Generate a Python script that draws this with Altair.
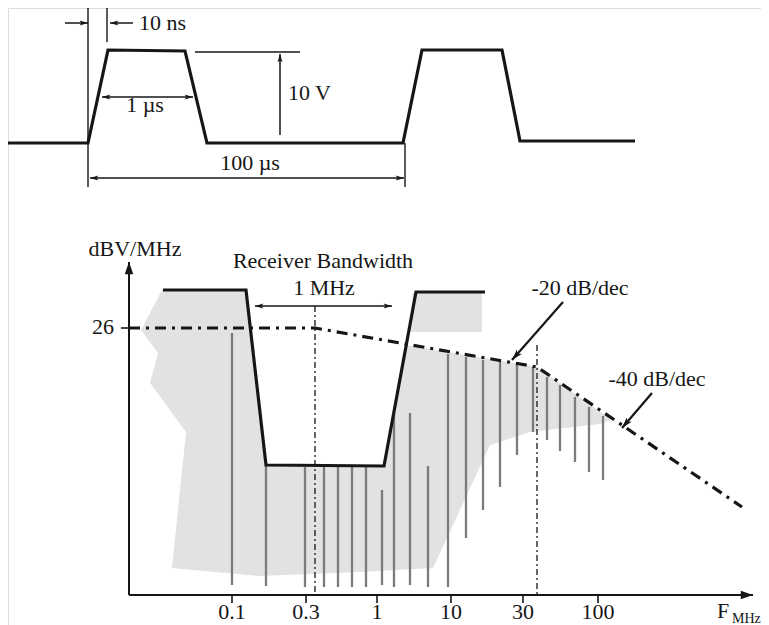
import altair as alt
import numpy as np
import pandas as pd

# ---------------- data: diagram coordinates ----------------
# pulse train (top)
pulse_x = [5, 88, 108, 185, 207, 318, 403, 422, 502, 520, 635]
pulse_y = [143, 143, 50, 51, 143, 143, 143, 50, 50, 141, 141]

# thin guide lines (top)
guide_x1 = [88, 107, 195, 405]
guide_y1 = [5, 8, 52, 143]
guide_x2 = [88, 107, 300, 405]
guide_y2 = [187, 42, 52, 187]

# small dimension arrows (top + bandwidth arrow)
small_x1 = [65, 133, 102, 280, 90, 255]
small_y1 = [23, 23, 97, 135, 178, 306]
small_x2 = [88, 110, 193, 280, 404, 392]
small_y2 = [23, 23, 97, 54, 178, 306]
small_heads = ["end", "end", "both", "end", "both", "both"]

# slope annotation arrows
slope_x1 = [563, 652]
slope_y1 = [302, 393]
slope_x2 = [512, 622]
slope_y2 = [360, 428]

# axes of the spectrum plot
axis_x1 = [129, 129]
axis_y1 = [595, 595]
axis_x2 = [129, 753]
axis_y2 = [262, 595]

# tick marks
xtick_pos = [232, 306, 377, 451, 523, 598]
xtick_lab = ["0.1", "0.3", "1", "10", "30", "100"]
ytick_pos = [328]
ytick_lab = ["26"]

# shaded region (two polygons)
gray_main_x = [162, 246, 266, 384, 406, 537, 612, 600, 530, 490, 433, 360, 260, 172, 186, 150, 158, 141, 162]
gray_main_y = [290, 290, 465, 466, 345, 367, 420, 424, 432, 445, 568, 572, 576, 568, 432, 383, 353, 330, 290]
gray_block_x = [413, 482, 482, 409, 413]
gray_block_y = [292, 292, 332, 332, 292]

# spectral lines
spec_x = [232, 266, 305, 324, 338, 352, 366, 382, 394, 410, 428, 448,
          466, 483, 500, 517, 533, 547, 560, 575, 589, 603]
spec_top = [333, 465, 467, 467, 467, 467, 467, 490, 410, 413, 466, 354,
            357, 360, 362, 364, 367, 377, 385, 397, 407, 416]
spec_bot = [585, 586, 587, 587, 587, 587, 587, 585, 587, 585, 587, 587,
            538, 510, 487, 455, 432, 440, 451, 462, 472, 480]

# receiver bandwidth curve
recv_x = [163, 246, 266, 384, 416, 485]
recv_y = [290, 290, 465, 466, 292, 292]

# spectrum envelope (dash-dot)
env_x = [129, 315, 537, 742]
env_y = [328, 328, 367, 507]

# corner-frequency markers
corner_x = [315, 537]
corner_top = [306, 345]
corner_bot = [595, 595]

# texts
txt_c_lab = ["1 µs", "100 µs", "dBV/MHz", "Receiver Bandwidth", "1 MHz", "-20 dB/dec", "-40 dB/dec"]
txt_c_x = [145, 250, 135, 323, 324, 580, 657]
txt_c_y = [112, 170, 256, 268, 295, 295, 386]
txt_l_lab = ["10 ns", "10 V", "F"]
txt_l_x = [139, 288, 717]
txt_l_y = [30, 100, 618]
sub_lab = ["MHz"]
sub_x = [732]
sub_y = [623]

# ---------------- build tables ----------------
def segs(x1, y1, x2, y2):
    return pd.DataFrame({"x": x1, "y": y1, "x2": x2, "y2": y2})


def heads(x1, y1, x2, y2, kinds=None):
    rows = []
    kinds = kinds or ["end"] * len(x1)
    for a, b, c, d, k in zip(x1, y1, x2, y2, kinds):
        ang = float(np.degrees(np.arctan2(c - a, -(d - b))) % 360)
        rows.append({"x": c, "y": d, "angle": ang})
        if k == "both":
            rows.append({"x": a, "y": b, "angle": (ang + 180) % 360})
    return pd.DataFrame(rows)


def path(xs, ys, key="p"):
    return pd.DataFrame({"x": xs, "y": ys, "i": range(len(xs)), "k": key})


xs = alt.Scale(domain=[8, 761], nice=False, zero=False)
ys = alt.Scale(domain=[625, 8], nice=False, zero=False)
X = alt.X("x:Q", scale=xs, axis=None)
Y = alt.Y("y:Q", scale=ys, axis=None)
X2 = alt.X2("x2:Q")
Y2 = alt.Y2("y2:Q")

INK = "#161616"
FONT = "Liberation Serif"
FS = 22

gray_df = pd.concat([path(gray_main_x, gray_main_y, "a"), path(gray_block_x, gray_block_y, "b")])
gray = alt.Chart(gray_df).mark_line(fill="#e2e2e2", strokeWidth=0, stroke="#e2e2e2").encode(
    x=X, y=Y, order="i:Q", detail="k:N")

spec = alt.Chart(segs(spec_x, spec_top, spec_x, spec_bot)).mark_rule(
    color="#7b7b7b", strokeWidth=2.3).encode(x=X, y=Y, x2=X2, y2=Y2)

corners = alt.Chart(segs(corner_x, corner_top, corner_x, corner_bot)).mark_rule(
    color=INK, strokeWidth=1.3, strokeDash=[6, 3, 2, 3]).encode(x=X, y=Y, x2=X2, y2=Y2)

env = alt.Chart(path(env_x, env_y)).mark_line(
    color=INK, strokeWidth=3.2, strokeDash=[11, 6, 3, 6]).encode(x=X, y=Y, order="i:Q")

recv = alt.Chart(path(recv_x, recv_y)).mark_line(
    color=INK, strokeWidth=3.2, strokeJoin="miter").encode(x=X, y=Y, order="i:Q")

pulse = alt.Chart(path(pulse_x, pulse_y)).mark_line(
    color=INK, strokeWidth=3.2, strokeJoin="miter").encode(x=X, y=Y, order="i:Q")

guides = alt.Chart(segs(guide_x1, guide_y1, guide_x2, guide_y2)).mark_rule(
    color=INK, strokeWidth=1.4).encode(x=X, y=Y, x2=X2, y2=Y2)

shafts = alt.Chart(segs(small_x1, small_y1, small_x2, small_y2)).mark_rule(
    color=INK, strokeWidth=1.5).encode(x=X, y=Y, x2=X2, y2=Y2)

slope_shafts = alt.Chart(segs(slope_x1, slope_y1, slope_x2, slope_y2)).mark_rule(
    color=INK, strokeWidth=2.2).encode(x=X, y=Y, x2=X2, y2=Y2)

axes = alt.Chart(segs(axis_x1, axis_y1, axis_x2, axis_y2)).mark_rule(
    color=INK, strokeWidth=2).encode(x=X, y=Y, x2=X2, y2=Y2)

xt = pd.DataFrame({"x": xtick_pos, "y": [595] * len(xtick_pos), "x2": xtick_pos,
                   "y2": [603] * len(xtick_pos), "lab": xtick_lab})
yt = pd.DataFrame({"x": [121], "y": ytick_pos, "x2": [129], "y2": ytick_pos, "lab": ytick_lab})
ticks = alt.Chart(pd.concat([xt, yt])).mark_rule(color=INK, strokeWidth=1.6).encode(
    x=X, y=Y, x2=X2, y2=Y2)

BARB = "M0,0 L0.6,2 L0,1.55 L-0.6,2 Z"
TRI = "M0,0 L0.7,2 L-0.7,2 Z"
ANG = alt.Angle("angle:Q", scale=None)

small_heads_c = alt.Chart(heads(small_x1, small_y1, small_x2, small_y2, small_heads)).mark_point(
    shape=BARB, filled=True, color=INK, opacity=1, size=70, strokeWidth=0).encode(x=X, y=Y, angle=ANG)
slope_heads_c = alt.Chart(heads(slope_x1, slope_y1, slope_x2, slope_y2)).mark_point(
    shape=BARB, filled=True, color=INK, opacity=1, size=120, strokeWidth=0).encode(x=X, y=Y, angle=ANG)
axis_heads_c = alt.Chart(heads(axis_x1, axis_y1, axis_x2, axis_y2)).mark_point(
    shape=TRI, filled=True, color=INK, opacity=1, size=150, strokeWidth=0).encode(x=X, y=Y, angle=ANG)

xl = pd.DataFrame({"x": xtick_pos, "y": [619] * len(xtick_pos), "lab": xtick_lab})
yl = pd.DataFrame({"x": [114], "y": [334], "lab": ytick_lab})

tx_c = pd.concat([pd.DataFrame({"x": txt_c_x, "y": txt_c_y, "lab": txt_c_lab}), xl])
text_c = alt.Chart(tx_c).mark_text(font=FONT, fontSize=FS, color=INK, align="center",
                                    baseline="alphabetic").encode(x=X, y=Y, text="lab:N")
text_l = alt.Chart(pd.DataFrame({"x": txt_l_x, "y": txt_l_y, "lab": txt_l_lab})).mark_text(
    font=FONT, fontSize=FS, color=INK, align="left", baseline="alphabetic").encode(x=X, y=Y, text="lab:N")
text_r = alt.Chart(yl).mark_text(font=FONT, fontSize=FS, color=INK, align="right",
                                 baseline="alphabetic").encode(x=X, y=Y, text="lab:N")
text_sub = alt.Chart(pd.DataFrame({"x": sub_x, "y": sub_y, "lab": sub_lab})).mark_text(
    font=FONT, fontSize=14, color=INK, align="left", baseline="alphabetic").encode(x=X, y=Y, text="lab:N")

chart = alt.layer(
    gray, spec, corners, env, recv, pulse, guides, shafts, slope_shafts, axes, ticks,
    small_heads_c, slope_heads_c, axis_heads_c, text_c, text_l, text_r, text_sub,
).properties(
    width=753, height=617, padding=0, autosize=alt.AutoSizeParams(type="none")
).configure_view(stroke=None).configure(background="white")

chart.save("out.html", embed_options={"renderer": "svg", "actions": False})
